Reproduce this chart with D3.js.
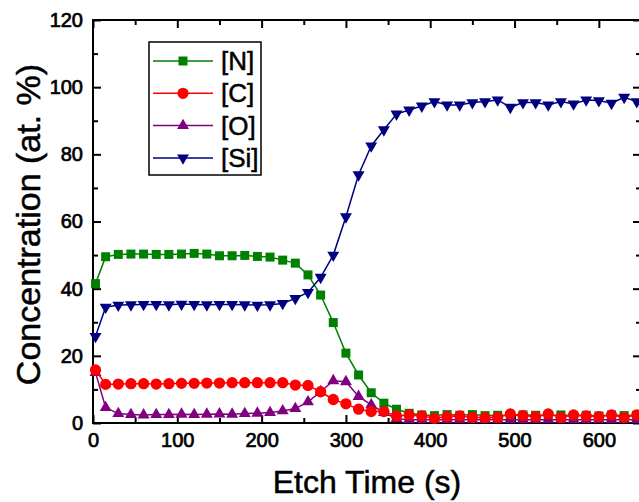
<!DOCTYPE html>
<html lang="en">
<head>
<meta charset="UTF-8">
<title>Depth profile</title>
<script src="https://d3js.org/d3.v7.min.js"></script>
<style>
  body { margin: 0; background: #fff; }
  text { font-family: "Liberation Sans", Arial, sans-serif; fill: #000; stroke: #000; stroke-width: 0.5px; }
</style>
</head>
<body>
<script>
// etch time (s)
const times = [3, 15, 30, 45, 60, 75, 90, 105, 120, 135, 150, 165, 180, 195, 210, 225,
  240, 255, 270, 285, 300, 315, 330, 345, 360, 375, 390, 405, 420, 435, 450, 465,
  480, 495, 510, 525, 540, 555, 570, 585, 600, 615, 630, 645];

// concentrations (at. %)
const nitrogen = [41.5, 49.5, 50.2, 50.3, 50.3, 50.2, 50.2, 50.3, 50.5, 50.3, 49.8, 49.8,
  49.9, 49.6, 49.4, 48.5, 47.6, 44.1, 38.1, 29.9, 20.8, 14.3, 9.0, 5.9, 4.1, 2.9,
  2.4, 2.2, 2.5, 2.3, 2.5, 2.2, 2.3, 2.2, 2.4, 2.3, 2.2, 2.4, 2.2, 2.3, 2.1, 2.4, 2.2, 2.3];
const carbon = [15.8, 11.5, 11.6, 11.7, 11.7, 11.6, 11.7, 11.8, 11.8, 11.9, 11.9, 12.0,
  12.0, 12.0, 12.0, 12.0, 11.3, 11.2, 9.3, 7.0, 5.7, 4.1, 3.4, 3.4, 2.1, 2.4,
  2.1, 1.4, 1.9, 2.1, 1.7, 1.6, 1.7, 2.7, 2.2, 1.9, 2.7, 1.7, 2.4, 2.1, 1.9, 2.4, 1.7, 2.4];
const oxygen = [15.0, 4.6, 2.8, 2.5, 2.4, 2.5, 2.5, 2.6, 2.5, 2.6, 2.7, 2.6,
  2.8, 2.9, 3.1, 3.6, 4.3, 6.3, 9.3, 12.6, 12.3, 7.9, 5.4, 3.1, 1.3, 1.0,
  1.0, 1.0, 1.0, 1.0, 1.0, 1.0, 1.0, 1.0, 1.0, 1.0, 1.0, 1.0, 1.0, 1.0, 1.0, 1.0, 1.0, 1.0];
const silicon = [25.8, 34.5, 35.1, 35.2, 35.3, 35.3, 35.2, 35.4, 35.3, 35.2, 35.3, 35.3,
  35.2, 35.1, 35.2, 35.6, 37.1, 38.9, 43.4, 50.0, 61.4, 73.9, 82.5, 87.3, 92.0, 93.2,
  94.4, 95.7, 94.7, 94.7, 95.4, 95.7, 96.2, 94.0, 95.4, 95.4, 94.7, 95.7, 95.0, 96.2,
  96.0, 95.2, 97.0, 95.7];

const xMajor = [0, 100, 200, 300, 400, 500, 600];
const xMinor = [50, 150, 250, 350, 450, 550, 650];
const yMajor = [0, 20, 40, 60, 80, 100, 120];
const yMinor = [10, 30, 50, 70, 90, 110];

const series = [
  { name: "[N]", values: nitrogen, color: "#008000", shape: "square" },
  { name: "[O]", values: oxygen, color: "#800080", shape: "up" },
  { name: "[C]", values: carbon, color: "#ff0000", shape: "circle" },
  { name: "[Si]", values: silicon, color: "#000080", shape: "down" }
];
const legendOrder = ["[N]", "[C]", "[O]", "[Si]"];

const width = 639, height = 502;
const plot = { left: 93, right: 641, top: 20, bottom: 423 };

const x = d3.scaleLinear().domain([0, 650]).range([plot.left, plot.right]);
const y = d3.scaleLinear().domain([0, 120]).range([plot.bottom, plot.top]);

const svg = d3.select("body").append("svg")
  .attr("width", width)
  .attr("height", height);

// axes: ticks point inward on all four sides
function styleAxis(g) {
  g.select(".domain").remove();
  g.selectAll(".tick line").attr("stroke", "#000").attr("stroke-width", 2);
  g.selectAll(".tick text").style("font-size", "20px").attr("fill", "#000").style("stroke-width", "0.7px");
}

svg.append("g").attr("transform", `translate(0,${plot.bottom})`)
  .call(d3.axisBottom(x).tickValues(xMajor).tickSizeInner(-8).tickSizeOuter(0).tickPadding(10))
  .call(styleAxis);
svg.append("g").attr("transform", `translate(0,${plot.bottom})`)
  .call(d3.axisBottom(x).tickValues(xMinor).tickSizeInner(-5).tickSizeOuter(0).tickFormat(""))
  .call(styleAxis);
svg.append("g").attr("transform", `translate(0,${plot.top})`)
  .call(d3.axisTop(x).tickValues(xMajor).tickSizeInner(-8).tickSizeOuter(0).tickFormat(""))
  .call(styleAxis);
svg.append("g").attr("transform", `translate(0,${plot.top})`)
  .call(d3.axisTop(x).tickValues(xMinor).tickSizeInner(-5).tickSizeOuter(0).tickFormat(""))
  .call(styleAxis);

svg.append("g").attr("transform", `translate(${plot.left},0)`)
  .call(d3.axisLeft(y).tickValues(yMajor).tickSizeInner(-8).tickSizeOuter(0).tickPadding(10))
  .call(styleAxis);
svg.append("g").attr("transform", `translate(${plot.left},0)`)
  .call(d3.axisLeft(y).tickValues(yMinor).tickSizeInner(-5).tickSizeOuter(0).tickFormat(""))
  .call(styleAxis);
svg.append("g").attr("transform", `translate(${plot.right},0)`)
  .call(d3.axisRight(y).tickValues(yMajor).tickSizeInner(-8).tickSizeOuter(0).tickFormat(""))
  .call(styleAxis);
svg.append("g").attr("transform", `translate(${plot.right},0)`)
  .call(d3.axisRight(y).tickValues(yMinor).tickSizeInner(-5).tickSizeOuter(0).tickFormat(""))
  .call(styleAxis);

// frame
svg.append("rect")
  .attr("x", plot.left).attr("y", plot.top)
  .attr("width", plot.right - plot.left).attr("height", plot.bottom - plot.top)
  .attr("fill", "none").attr("stroke", "#000").attr("stroke-width", 2);

// axis titles
svg.append("text")
  .attr("x", (plot.left + plot.right) / 2).attr("y", 493)
  .attr("text-anchor", "middle")
  .style("font-size", "32px")
  .text("Etch Time (s)");
svg.append("text")
  .attr("transform", `translate(40,${(plot.top + plot.bottom) / 2 + 3}) rotate(-90)`)
  .attr("text-anchor", "middle")
  .style("font-size", "34px")
  .text("Concentration (at. %)");

function marker(shape) {
  if (shape === "square") return d3.symbol().type(d3.symbolSquare).size(81)();
  if (shape === "circle") return d3.symbol().type(d3.symbolCircle).size(100)();
  return d3.symbol().type(d3.symbolTriangle).size(62)();
}
function markerTransform(shape, px, py) {
  return shape === "down" ? `translate(${px},${py}) rotate(180)` : `translate(${px},${py})`;
}

const line = d3.line().x(d => x(d[0])).y(d => y(d[1]));

series.forEach(s => {
  const pts = times.map((t, i) => [t, s.values[i]]);
  const g = svg.append("g");
  g.append("path")
    .attr("d", line(pts))
    .attr("fill", "none")
    .attr("stroke", s.color)
    .attr("stroke-width", 1.5);
  g.selectAll("path.pt")
    .data(pts)
    .enter().append("path")
    .attr("class", "pt")
    .attr("d", marker(s.shape))
    .attr("transform", d => markerTransform(s.shape, x(d[0]), y(d[1])))
    .attr("fill", s.color);
});

// legend
const legend = svg.append("g");
legend.append("rect")
  .attr("x", 149).attr("y", 42).attr("width", 112).attr("height", 133)
  .attr("fill", "#fff").attr("stroke", "#000").attr("stroke-width", 1.5);
legendOrder.forEach((name, i) => {
  const s = series.find(d => d.name === name);
  const cy = 61 + i * 32.3;
  legend.append("line")
    .attr("x1", 153).attr("x2", 213).attr("y1", cy).attr("y2", cy)
    .attr("stroke", s.color).attr("stroke-width", 1.5);
  legend.append("path")
    .attr("d", marker(s.shape))
    .attr("transform", markerTransform(s.shape, 183, cy))
    .attr("fill", s.color);
  legend.append("text")
    .attr("x", 221).attr("y", cy + 9)
    .style("font-size", "26px")
    .text(name);
});
</script>
</body>
</html>
